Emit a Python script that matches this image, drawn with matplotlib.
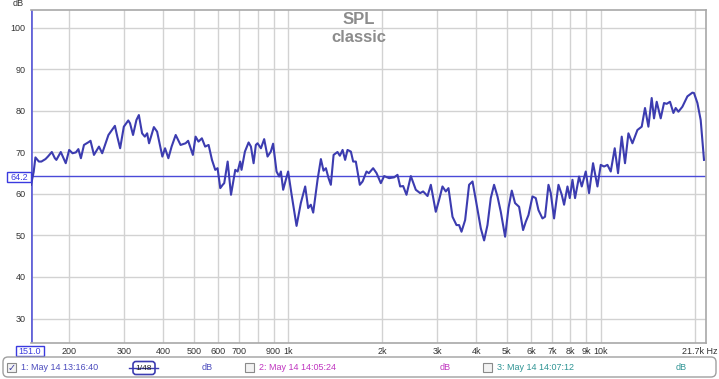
import matplotlib
matplotlib.use("Agg")
import matplotlib.pyplot as plt
from matplotlib.patches import Rectangle, FancyBboxPatch

plt.rcParams['font.family'] = ['Liberation Sans', 'DejaVu Sans']

freq = [151, 154, 156, 160, 163, 168, 171, 176, 180, 182, 188, 195, 200, 205, 210,
        214, 218, 223, 231, 234, 240, 249, 255, 267, 280, 285, 291, 299, 309, 313,
        320, 328, 334, 342, 349, 355, 360, 373, 382, 397, 405, 415, 425, 438, 454,
        471, 480, 497, 507, 518, 531, 544, 558, 572, 586, 596, 608, 619, 626, 642,
        658, 679, 691, 704, 711, 729, 749, 762, 777, 790, 800, 820, 840, 861, 882,
        897, 920, 938, 950, 966, 985, 1002, 1028, 1066, 1100, 1136, 1161, 1184, 1205, 1244,
        1275, 1300, 1323, 1349, 1372, 1400, 1441, 1466, 1496, 1524, 1551, 1590, 1617, 1649, 1698,
        1733, 1784, 1815, 1873, 1921, 1982, 2031, 2107, 2186, 2241, 2285, 2336, 2394, 2472, 2564,
        2647, 2706, 2795, 2864, 2970, 3044, 3120, 3197, 3261, 3359, 3459, 3526, 3589, 3686, 3795,
        3892, 3987, 4137, 4239, 4345, 4452, 4561, 4677, 4792, 4947, 5071, 5196, 5323, 5483, 5647,
        5760, 5875, 6051, 6199, 6324, 6512, 6637, 6807, 6923, 7093, 7327, 7507, 7636, 7828, 7962,
        8122, 8278, 8526, 8696, 8956, 9176, 9450, 9761, 10000, 10247, 10505, 10765, 11085, 11358, 11671,
        11956, 12260, 12627, 13100, 13521, 13852, 14203, 14551, 14801, 15097, 15548, 15932, 16251, 16649, 17073,
        17362, 17710, 18239, 18923, 19634, 19866, 20370, 20868, 21383]
spl = [62.2, 65.3, 68.8, 67.8, 67.8, 68.4, 69.0, 70.1, 68.6, 68.2, 70.1, 67.4, 70.6, 69.8, 70.0,
       70.8, 68.6, 71.8, 72.5, 72.8, 69.4, 71.4, 69.8, 74.2, 76.4, 73.8, 71.0, 76.2, 77.7, 77.0,
       74.2, 77.8, 79.0, 74.6, 73.8, 74.6, 72.2, 76.1, 75.0, 69.0, 71.0, 68.6, 71.4, 74.2, 71.8,
       72.2, 72.8, 69.4, 73.8, 72.6, 73.4, 71.4, 71.8, 68.2, 65.8, 66.2, 61.4, 62.2, 62.6, 67.8,
       59.8, 65.8, 65.4, 67.8, 65.8, 70.2, 72.4, 71.4, 67.4, 71.8, 72.2, 71.0, 73.2, 69.0, 70.2,
       72.1, 65.4, 64.2, 65.4, 61.0, 63.4, 65.4, 59.8, 52.3, 57.8, 61.8, 56.6, 57.4, 55.5, 63.4,
       68.4, 65.6, 66.2, 63.8, 62.2, 69.4, 70.1, 69.2, 70.6, 68.2, 70.6, 70.2, 67.8, 67.8, 62.2,
       63.0, 65.4, 65.0, 66.2, 65.0, 62.6, 64.3, 63.8, 64.0, 64.6, 61.8, 61.9, 59.8, 64.3, 61.0,
       60.2, 60.6, 59.5, 62.2, 55.7, 58.6, 61.8, 60.6, 61.4, 54.5, 52.5, 52.5, 50.9, 53.7, 62.2,
       63.0, 58.6, 51.7, 48.8, 52.5, 59.0, 62.2, 59.4, 55.7, 49.7, 56.6, 60.8, 57.8, 56.9, 51.3,
       53.3, 54.9, 59.4, 59.0, 56.1, 54.1, 54.5, 62.2, 60.2, 54.1, 62.2, 59.8, 57.4, 61.8, 59.0,
       63.4, 59.0, 64.2, 61.8, 65.4, 60.2, 67.4, 61.8, 67.0, 66.6, 67.0, 65.4, 71.0, 65.0, 73.8,
       67.4, 74.6, 72.2, 75.4, 76.2, 80.7, 76.2, 83.1, 78.2, 82.2, 78.2, 81.9, 81.7, 82.2, 79.5,
       80.7, 79.8, 81.0, 83.5, 84.4, 84.3, 81.9, 77.8, 68.2]

x_ticks = [200, 300, 400, 500, 600, 700, 800, 900, 1000, 2000, 3000, 4000, 5000,
           6000, 7000, 8000, 9000, 10000, 20000]
x_labels = ['200', '300', '400', '500', '600', '700', '', '900', '1k', '2k', '3k', '4k', '5k',
            '6k', '7k', '8k', '9k', '10k', '']
y_ticks = [30, 40, 50, 60, 70, 80, 90, 100]

cursor_f = 151.0
cursor_db = 64.2

W, H = 719, 379
fig = plt.figure(figsize=(W / 100, H / 100), dpi=100)
fig.patch.set_facecolor('white')

ax = fig.add_axes([31 / W, 1 - 343 / H, 675 / W, 333 / H])
ax.set_xscale('log')
ax.set_xlim(151, 21700)
ax.set_ylim(24.1, 104.3)
ax.set_xticks(x_ticks)
ax.set_xticklabels(x_labels)
ax.xaxis.set_minor_locator(matplotlib.ticker.NullLocator())
ax.set_yticks(y_ticks)
ax.tick_params(length=0, labelsize=6.5, colors='#333333')
ax.tick_params(axis='x', pad=3)
ax.tick_params(axis='y', pad=4)
ax.grid(True, color='#d2d2d2', lw=1)
ax.set_axisbelow(True)
for s in ['top', 'right', 'bottom']:
    ax.spines[s].set_color('#a8a8a8')
    ax.spines[s].set_linewidth(1.2)
ax.spines['left'].set_visible(False)

ax.axhline(cursor_db, color='#4a4ad8', lw=1)
ax.axvline(cursor_f, color='#6464d8', lw=2)
ax.plot(freq, spl, color='#3c3cb0', lw=1.5, solid_joinstyle='round')

# overlay in pixel units for labels and the bottom panel
ov = fig.add_axes([0, 0, 1, 1])
ov.set_xlim(0, W)
ov.set_ylim(H, 0)
ov.axis('off')

ov.text(359, 19, 'SPL', ha='center', va='center', fontsize=12, weight='bold', color='#8c8c8c')
ov.text(359, 37, 'classic', ha='center', va='center', fontsize=12, weight='bold', color='#8c8c8c')
ov.text(13, 4, 'dB', ha='left', va='center', fontsize=6.5, color='#333333')
ov.text(717, 351, '21.7k Hz', ha='right', va='center', fontsize=6.5, color='#333333')

ov.add_patch(Rectangle((16, 346), 28, 10, fc='white', ec='#3a3ae0', lw=1))
ov.text(30, 351.5, '%.1f' % cursor_f, ha='center', va='center', fontsize=6.5, color='#3a3ae0')
ov.add_patch(Rectangle((7, 172), 24, 10, fc='white', ec='#3a3ae0', lw=1))
ov.text(19, 177.5, '%.1f' % cursor_db, ha='center', va='center', fontsize=6.5, color='#3a3ae0')

ov.add_patch(FancyBboxPatch((3, 357), 713, 20, boxstyle='round,pad=0,rounding_size=5',
                            fc='white', ec='#a0a0a0', lw=1))

items = [(7, '1: May 14 13:16:40', '#4b4bbd', 207, True),
         (245, '2: May 14 14:05:24', '#c035c0', 445, False),
         (483, '3: May 14 14:07:12', '#2f9494', 681, False)]
for bx, label, col, dbx, checked in items:
    ov.add_patch(Rectangle((bx, 363), 9, 9, fc='#f2f2f2', ec='#8a8a8a', lw=0.8))
    if checked:
        ov.text(bx + 4.5, 367.5, '\u2713', ha='center', va='center', fontsize=7,
                color='#3a3aa0', family='DejaVu Sans', weight='bold')
    ov.text(bx + 14, 368, label, ha='left', va='center', fontsize=6.5, color=col)
    ov.text(dbx, 368, 'dB', ha='center', va='center', fontsize=6.5, color=col)

# smoothing widget
ov.plot([129, 158], [368, 368], color='#3c3cb0', lw=1)
ov.add_patch(FancyBboxPatch((133, 361.5), 22, 13, boxstyle='round,pad=0,rounding_size=3',
                            fc='white', ec='#3c3cb0', lw=1.2))
ov.text(144, 368, '1/48', ha='center', va='center', fontsize=6, color='#222222')

fig.savefig('out.png', dpi=100)
